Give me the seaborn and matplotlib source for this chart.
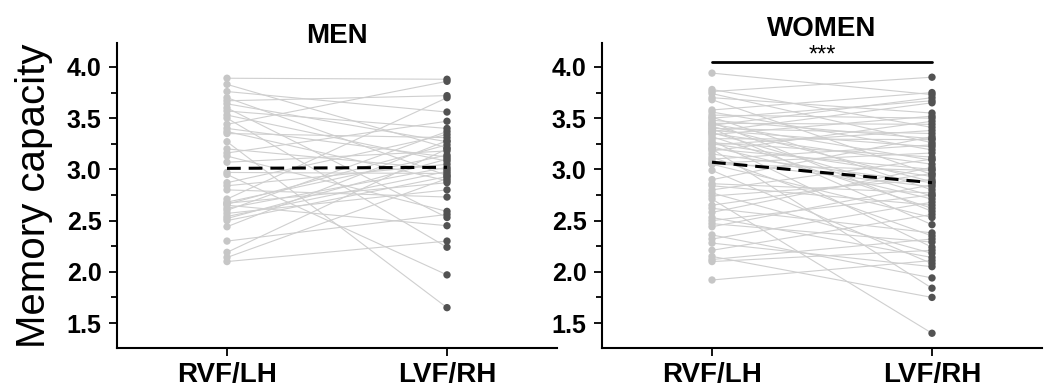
"""Paired memory capacity by visual field / hemisphere, men vs women."""
import matplotlib

matplotlib.use("Agg")
import matplotlib.pyplot as plt
import pandas as pd
import seaborn as sns
from matplotlib.ticker import FormatStrFormatter, MultipleLocator

SIDES = ["RVF/LH", "LVF/RH"]

# paired values, one entry per participant (same index = same person)
MEN_RVF = [3.89, 3.83, 3.76, 3.70, 3.67, 3.64, 3.60, 3.57, 3.53, 3.50,
           3.44, 3.40, 3.37, 3.35, 3.27, 3.20, 3.16, 3.13, 3.07, 2.97,
           2.95, 2.87, 2.84, 2.80, 2.71, 2.68, 2.67, 2.66, 2.65, 2.62,
           2.60, 2.57, 2.54, 2.52, 2.50, 2.44, 2.30, 2.19, 2.14, 2.10]
MEN_LVF = [3.88, 3.21, 3.56, 2.94, 3.72, 3.27, 2.53, 3.40, 3.08, 2.24,
           3.86, 3.12, 2.89, 3.31, 1.65, 3.00, 3.47, 2.59, 3.18, 2.96,
           1.97, 3.34, 3.05, 2.73, 3.70, 3.14, 2.87, 3.24, 2.45, 3.02,
           3.37, 2.80, 2.98, 3.10, 2.93, 3.28, 2.56, 3.20, 2.91, 2.30]

WOMEN_RVF = [3.94, 3.78, 3.76, 3.74, 3.70, 3.68, 3.58, 3.56, 3.53, 3.51,
             3.50, 3.48, 3.46, 3.45, 3.44, 3.43, 3.42, 3.40, 3.40, 3.38,
             3.37, 3.36, 3.35, 3.34, 3.32, 3.30, 3.28, 3.26, 3.25, 3.24,
             3.22, 3.20, 3.20, 3.18, 3.15, 3.12, 3.10, 3.08, 3.06, 3.05,
             3.05, 2.99, 2.90, 2.86, 2.84, 2.80, 2.77, 2.74, 2.71, 2.65,
             2.62, 2.58, 2.53, 2.50, 2.47, 2.44, 2.36, 2.32, 2.28, 2.21,
             2.15, 2.12, 2.10, 1.92]
WOMEN_LVF = [3.73, 3.41, 3.90, 3.26, 3.55, 2.95, 3.75, 3.19, 3.50, 2.80,
             3.67, 3.30, 2.59, 3.44, 3.09, 3.70, 2.88, 3.35, 2.46, 3.22,
             3.65, 2.74, 3.05, 3.52, 2.62, 3.29, 2.24, 3.12, 2.93, 3.38,
             2.71, 3.00, 1.84, 3.47, 2.87, 2.35, 3.24, 2.83, 3.16, 2.53,
             2.99, 2.08, 3.32, 2.77, 2.65, 3.10, 2.18, 2.90, 1.40, 2.96,
             2.38, 3.02, 2.14, 2.75, 2.29, 2.85, 1.94, 2.68, 2.05, 2.56,
             1.75, 2.32, 2.21, 2.11]

FONT = ["Liberation Sans", "DejaVu Sans"]


def long_table(rvf, lvf):
    rows = []
    for i, (a, b) in enumerate(zip(rvf, lvf)):
        rows.append({"subject": i, "pos": 0, "side": SIDES[0], "value": a})
        rows.append({"subject": i, "pos": 1, "side": SIDES[1], "value": b})
    return pd.DataFrame(rows)


def draw_panel(ax, df, title, title_lift):
    sns.lineplot(data=df, x="pos", y="value", units="subject", estimator=None,
                 color="#cfcfcf", lw=0.8, ax=ax, legend=False, zorder=1)
    sns.scatterplot(data=df, x="pos", y="value", hue="side",
                    palette={SIDES[0]: "#c6c6c6", SIDES[1]: "#525252"},
                    s=28, linewidth=0, ax=ax, legend=False, zorder=3)
    sns.lineplot(data=df, x="pos", y="value", estimator="mean", errorbar=None,
                 color="black", lw=2.2, linestyle=(0, (4.5, 2.6)), ax=ax,
                 legend=False, zorder=4)

    ax.set_xlim(-0.5, 1.5)
    ax.set_ylim(1.256, 4.234)
    ax.set_xticks([0, 1])
    ax.set_xticklabels(SIDES, fontsize=20, fontweight="bold")
    ax.set_xlabel("")
    ax.set_ylabel("")
    ax.yaxis.set_major_locator(MultipleLocator(0.5))
    ax.yaxis.set_minor_locator(MultipleLocator(0.25))
    ax.yaxis.set_major_formatter(FormatStrFormatter("%.1f"))
    for lab in ax.get_yticklabels():
        lab.set_fontweight("bold")
        lab.set_fontsize(18)
    ax.tick_params(axis="y", which="major", length=6, width=1.3, pad=5)
    ax.tick_params(axis="y", which="minor", length=4.5, width=1.3)
    ax.tick_params(axis="x", which="major", length=6, width=1.3, pad=4)
    sns.despine(ax=ax)
    for side in ("left", "bottom"):
        ax.spines[side].set_linewidth(1.5)
    ax.text(0.5, 1.0 + title_lift, title, transform=ax.transAxes,
            ha="center", va="baseline", fontsize=20, fontweight="bold")


def main():
    sns.set_style("ticks")
    plt.rcParams["font.family"] = FONT
    for key in ("text.color", "axes.labelcolor", "xtick.color",
                "ytick.color", "axes.edgecolor"):
        plt.rcParams[key] = "black"

    fig = plt.figure(figsize=(10.46, 3.89), dpi=100)
    ax_m = fig.add_axes([117 / 1046, 41 / 389, 440 / 1046, 305 / 389])
    ax_w = fig.add_axes([602 / 1046, 41 / 389, 440 / 1046, 305 / 389])

    draw_panel(ax_m, long_table(MEN_RVF, MEN_LVF), "MEN", 0.0)
    draw_panel(ax_w, long_table(WOMEN_RVF, WOMEN_LVF), "WOMEN", 0.023)

    ax_m.set_ylabel("Memory capacity", fontsize=29, labelpad=10)

    # significance bracket
    ax_w.plot([0, 1], [4.05, 4.05], color="black", lw=2, clip_on=False)
    ax_w.text(0.5, 4.11, "***", ha="center", va="center", fontsize=17)

    fig.savefig("out.png", dpi=100, facecolor="white")
    plt.close(fig)


if __name__ == "__main__":
    main()
